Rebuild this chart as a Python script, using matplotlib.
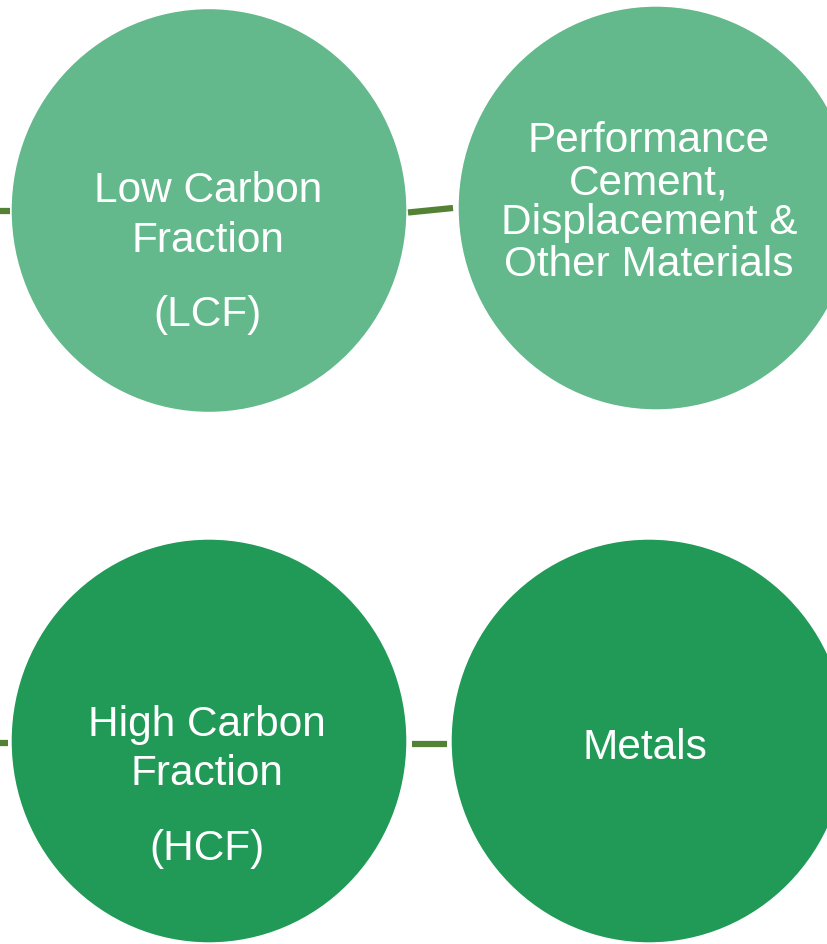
import matplotlib.pyplot as plt
from matplotlib.patches import Ellipse

plt.rcParams['font.family'] = ['Liberation Sans', 'DejaVu Sans']

# circle labels, one list of text lines per circle
lcf_lines = ['Low Carbon', 'Fraction', '(LCF)']
perf_lines = ['Performance', 'Cement,', 'Displacement &', 'Other Materials']
hcf_lines = ['High Carbon', 'Fraction', '(HCF)']
metal_lines = ['Metals']

light_green = '#63b98b'
dark_green = '#219a58'
line_green = '#548235'

fig = plt.figure(figsize=(8.27, 9.45), dpi=100)
ax = fig.add_axes([0, 0, 1, 1])
ax.set_xlim(0, 827)
ax.set_ylim(945, 0)
ax.axis('off')

# connectors
ax.plot([0, 10], [212, 212], color=line_green, lw=4.5, solid_capstyle='butt')
ax.plot([408, 453], [213.5, 209], color=line_green, lw=4.5, solid_capstyle='butt')
ax.plot([0, 8], [744, 744], color=line_green, lw=4.5, solid_capstyle='butt')
ax.plot([412, 447], [745, 745], color=line_green, lw=4.5, solid_capstyle='butt')

circles = [
    ((209, 211.5), light_green, lcf_lines, [191, 241, 315], 208),
    ((656, 209), light_green, perf_lines, [141, 183, 223, 265], 649),
    ((209, 742), dark_green, hcf_lines, [725, 774, 849], 207),
    ((649, 742), dark_green, metal_lines, [748], 645),
]

for center, col, lines, ys, tx in circles:
    ax.add_patch(Ellipse(center, 396, 404, facecolor=col, edgecolor='white', lw=1))
    for txt, y in zip(lines, ys):
        ax.text(tx, y, txt, color='white', fontsize=30.5, ha='center', va='center')

fig.savefig('out.png', dpi=100)
